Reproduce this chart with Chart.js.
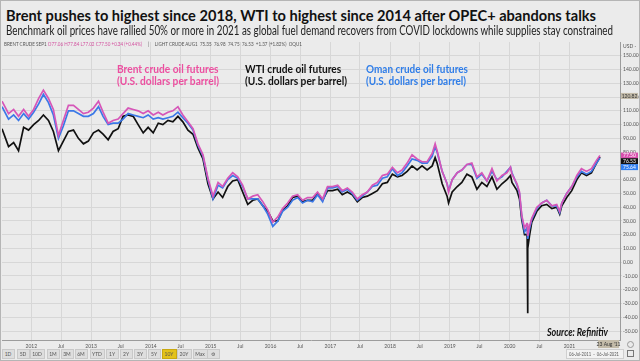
<!DOCTYPE html>
<html>
<head>
<meta charset="utf-8">
<script src="https://cdn.jsdelivr.net/npm/chart.js@4.4.1/dist/chart.umd.min.js"></script>
<style>
html, body { margin: 0; padding: 0; }
body { width: 640px; height: 361px; background: #ebebeb; position: relative; overflow: hidden; font-family: Lato, sans-serif; }
#frame { position: absolute; left: 0; top: 0; width: 638px; height: 359px; border: 1px solid #b5b5b5; pointer-events: none; }
.t { position: absolute; white-space: nowrap; transform-origin: 0 50%; display: inline-block; }
#title { left: 6px; top: 5px; font-size: 16px; font-weight: bold; color: #111; line-height: 20px; }
#sub { left: 6px; top: 23px; font-size: 12.5px; color: #222; line-height: 16px; }
#info { left: 4px; top: 41px; font-size: 5px; color: #555; line-height: 6px; }
#info .p { color: #d3519f; }
#chartBox { position: absolute; left: 0; top: 38px; width: 640px; height: 312px; }
.ann { font-size: 11.5px; font-weight: bold; line-height: 12px; }
#brentTxt { left: 117px; top: 63px; color: #ec4fa0; }
#wtiTxt { left: 245px; top: 63px; color: #111; }
#omanTxt { left: 366px; top: 63px; color: #2f7de8; }
#source { left: 547px; top: 325px; font-size: 12px; font-weight: bold; font-style: italic; color: #111; line-height: 14px; }
.btn { position: absolute; top: 349px; height: 8px; background: #dedede; border: 1px solid #c9c9c9; font-size: 5px; line-height: 8px; text-align: center; color: #555; box-sizing: content-box; }
.btn.on { background: #e3c21b; border-color: #c9a810; }
#rangeBox { position: absolute; left: 566px; top: 349px; width: 56px; height: 8px; background: #f2f2f2; border: 1px solid #cfcfcf; }
#range { left: 569px; top: 350px; font-size: 5px; line-height: 8px; color: #555; }
#cal { position: absolute; left: 627px; top: 350px; width: 5px; height: 5px; border: 1px solid #777; }
#circ { position: absolute; left: 627px; top: 341px; width: 5px; height: 5px; border: 1px solid #999; border-radius: 50%; }
</style>
</head>
<body>
<div id="chartBox"><canvas id="oilChart" width="640" height="312"></canvas></div>
<span class="t" id="title">Brent pushes to highest since 2018, WTI to highest since 2014 after OPEC+ abandons talks</span>
<span class="t" id="sub">Benchmark oil prices have rallied 50% or more in 2021 as global fuel demand recovers from COVID lockdowns while supplies stay constrained</span>
<span class="t" id="info">BRENT CRUDE SEP1 <span class="p">O77.06 H77.84 L77.02 C77.50 +0.34 (+0.44%)</span> &nbsp;&nbsp;&nbsp;&nbsp;|&nbsp;&nbsp;&nbsp;&nbsp; LIGHT CRUDE AUG1 &nbsp;75.35 &nbsp;76.98 &nbsp;74.75 &nbsp;76.53 &nbsp;+1.37 (+1.82%) &nbsp;OQU1</span>
<div class="t ann" id="brentTxt">Brent crude oil futures<br>(U.S. dollars per barrel)</div>
<div class="t ann" id="wtiTxt">WTI crude oil futures<br>(U.S. dollars per barrel)</div>
<div class="t ann" id="omanTxt">Oman crude oil futures<br>(U.S. dollars per barrel)</div>
<span class="t" id="source">Source: Refinitiv</span>
<div id="buttons"></div>
<div id="rangeBox"></div>
<span class="t" id="range">06-Jul-2011 &nbsp;-&nbsp; 06-Jul-2021</span>
<div id="cal"></div>
<div id="circ"></div>
<div id="frame"></div>
<script>
// dates of the sampled points (roughly monthly, denser around the 2020 crash)
const dates = [
  '2011-07-06','2011-08-15','2011-09-15','2011-10-15','2011-11-15','2011-12-15',
  '2012-01-15','2012-02-15','2012-03-15','2012-04-15','2012-05-15','2012-06-15','2012-07-15','2012-08-15','2012-09-15','2012-10-15','2012-11-15','2012-12-15',
  '2013-01-15','2013-02-15','2013-03-15','2013-04-15','2013-05-15','2013-06-15','2013-07-15','2013-08-15','2013-09-15','2013-10-15','2013-11-15','2013-12-15',
  '2014-01-15','2014-02-15','2014-03-15','2014-04-15','2014-05-15','2014-06-15','2014-07-15','2014-08-15','2014-09-15','2014-10-15','2014-11-15','2014-12-15',
  '2015-01-15','2015-02-15','2015-03-15','2015-04-15','2015-05-15','2015-06-15','2015-07-15','2015-08-15','2015-09-15','2015-10-15','2015-11-15','2015-12-15',
  '2016-01-15','2016-02-15','2016-03-15','2016-04-15','2016-05-15','2016-06-15','2016-07-15','2016-08-15','2016-09-15','2016-10-15','2016-11-15','2016-12-15',
  '2017-01-15','2017-02-15','2017-03-15','2017-04-15','2017-05-15','2017-06-15','2017-07-15','2017-08-15','2017-09-15','2017-10-15','2017-11-15','2017-12-15',
  '2018-01-15','2018-02-15','2018-03-15','2018-04-15','2018-05-15','2018-06-15','2018-07-15','2018-08-15','2018-09-15','2018-10-03','2018-10-15','2018-11-15','2018-12-15','2018-12-24',
  '2019-01-15','2019-02-15','2019-03-15','2019-04-15','2019-05-15','2019-06-15','2019-07-15','2019-08-15','2019-09-15','2019-10-15','2019-11-15','2019-12-15',
  '2020-01-06','2020-01-15','2020-02-15','2020-03-01','2020-03-15','2020-04-01','2020-04-15','2020-04-17','2020-04-20','2020-04-21','2020-05-01','2020-05-15','2020-06-15','2020-07-15','2020-08-15','2020-09-15','2020-10-15','2020-11-02','2020-11-15','2020-12-15',
  '2021-01-15','2021-02-15','2021-03-15','2021-04-15','2021-05-15','2021-06-15','2021-07-06'
];

const brent = [
  117, 108, 111, 106, 111, 106,
  111, 119, 125, 119, 111, 92, 103, 114, 114, 111, 108, 109,
  112, 117, 109, 101, 103, 104, 108, 112, 111, 110, 108, 110,
  107, 109, 107, 109, 110, 113, 107, 102, 97, 86, 78, 61,
  48, 58, 55, 61, 65, 62, 56, 46, 48, 49, 44, 38,
  29, 33, 39, 43, 48, 49, 45, 47, 47, 51, 46, 55,
  55, 56, 52, 54, 51, 46, 49, 51, 56, 58, 63, 64,
  69, 65, 67, 72, 78, 75, 73, 73, 79, 86, 81, 66, 57, 51,
  60, 65, 67, 71, 72, 62, 65, 59, 68, 59, 63, 65,
  69, 64, 57, 51, 34, 25, 28, 28, 26, 19, 26, 32, 40, 43, 45, 41, 42, 37, 43, 50,
  55, 63, 68, 66, 68, 74, 77.50
];

const wti = [
  97, 84, 87, 81, 98, 96,
  100, 103, 107, 103, 95, 81, 88, 95, 96, 90, 86, 88,
  94, 96, 93, 89, 95, 97, 106, 107, 106, 100, 94, 98,
  94, 101, 100, 103, 102, 106, 102, 96, 93, 83, 75, 57,
  46, 51, 47, 55, 59, 60, 51, 42, 45, 46, 41, 37,
  30, 30, 38, 41, 47, 48, 44, 45, 45, 50, 45, 52,
  52, 53, 49, 51, 49, 44, 47, 48, 50, 52, 57, 58,
  64, 62, 63, 66, 70, 67, 70, 67, 70, 76, 72, 57, 48, 43,
  51, 55, 58, 64, 62, 53, 58, 55, 62, 53, 57, 60,
  63, 58, 52, 46, 31, 20, 20, 18, -37, 10, 19, 29, 37, 41, 42, 39, 40, 35, 41, 47,
  52, 60, 65, 63, 65, 72, 76.53
];

const oman = [
  113, 104, 107, 103, 108, 104,
  109, 115, 122, 116, 107, 90, 99, 110, 110, 108, 106, 106,
  108, 113, 106, 100, 101, 101, 104, 108, 107, 106, 105, 107,
  104, 105, 104, 105, 106, 109, 105, 101, 96, 85, 77, 60,
  46, 56, 54, 60, 63, 61, 55, 46, 46, 46, 41, 35,
  26, 30, 37, 40, 45, 47, 43, 45, 44, 49, 44, 54,
  54, 55, 51, 53, 50, 45, 48, 51, 55, 56, 61, 62,
  68, 63, 65, 70, 75, 74, 72, 72, 77, 84, 80, 66, 57, 52,
  60, 65, 67, 71, 71, 61, 64, 59, 66, 60, 62, 66,
  69, 65, 56, 50, 33, 22, 25, 24, 23, 17, 24, 31, 39, 43, 45, 41, 41, 36, 43, 50,
  55, 62, 66, 64, 66, 72, 75.64
];

const tickDates = ['2012-01-01','2012-07-01','2013-01-01','2013-07-01','2014-01-01','2014-07-01','2015-01-01','2015-07-01',
  '2016-01-01','2016-07-01','2017-01-01','2017-07-01','2018-01-01','2018-07-01','2019-01-01','2019-07-01','2020-01-01','2020-07-01','2021-01-01'];
const tickLabels = ['2012','Jul','2013','Jul','2014','Jul','2015','Jul','2016','Jul','2017','Jul','2018','Jul','2019','Jul','2020','Jul','2021'];
const yTicks = [-50, -40, -30, -20, -10, 0, 10, 20, 30, 40, 50, 60, 70, 80, 90, 100, 110, 120, 130, 140, 150];
const crossValue = 120.82;
const crossDate = "23 Aug '11";

function toYear(s) {
  const d = Date.parse(s + 'T00:00:00Z');
  const y = new Date(d).getUTCFullYear();
  const a = Date.UTC(y, 0, 1), b = Date.UTC(y + 1, 0, 1);
  return y + (d - a) / (b - a);
}
const pts = arr => dates.map((d, i) => ({ x: toYear(d), y: arr[i] }));

Chart.defaults.font.family = 'Lato, sans-serif';

// price tags on the right axis, crosshair labels, USD unit
const tagPlugin = {
  id: 'tags',
  afterDraw(chart) {
    const ctx = chart.ctx, ys = chart.scales.y, area = chart.chartArea;
    const box = (x, y, w, h, bg, fg, txt) => {
      ctx.fillStyle = bg;
      ctx.fillRect(x, y - h / 2, w, h);
      ctx.fillStyle = fg;
      ctx.font = '5px Lato, sans-serif';
      ctx.textAlign = 'center';
      ctx.textBaseline = 'middle';
      ctx.fillText(txt, x + w / 2, y + 0.3);
    };
    const tags = [
      { v: brent[brent.length - 1], bg: '#d94fae', dy: 0 },
      { v: wti[wti.length - 1], bg: '#111111', dy: 4.3 },
      { v: oman[oman.length - 1], bg: '#2f7ff0', dy: 9 }
    ];
    tags.forEach(t => box(area.right + 1, ys.getPixelForValue(t.v) + t.dy, 17, 6, t.bg, '#fff', t.v.toFixed(2)));
    box(area.right + 1, ys.getPixelForValue(crossValue), 17, 6, '#c3bba9', '#333', crossValue.toFixed(2));
    box(area.right - 22, area.bottom + 4, 21, 8, '#c3bba9', '#333', crossDate);
    ctx.fillStyle = '#555';
    ctx.font = '5px Lato, sans-serif';
    ctx.textAlign = 'left';
    ctx.fillText('USD -', area.right + 3, ys.getPixelForValue(156.5));
  }
};

new Chart(document.getElementById('oilChart'), {
  type: 'line',
  data: {
    datasets: [
      { label: 'Brent', data: pts(brent), borderColor: '#d656b8', borderWidth: 1.7 },
      { label: 'Oman', data: pts(oman), borderColor: '#3b78e7', borderWidth: 1.7 },
      { label: 'WTI', data: pts(wti), borderColor: '#111111', borderWidth: 1.7 }
    ]
  },
  options: {
    responsive: false,
    animation: false,
    layout: { padding: { left: 2, right: 0, top: 0, bottom: 0 } },
    elements: { point: { radius: 0 }, line: { tension: 0 } },
    plugins: { legend: { display: false }, tooltip: { enabled: false } },
    scales: {
      x: {
        type: 'linear',
        min: toYear('2011-07-06'),
        max: 2021.845,
        afterBuildTicks: ax => { ax.ticks = tickDates.map(d => ({ value: toYear(d) })); },
        afterFit: ax => { ax.height = 10; },
        ticks: { callback: (v, i) => tickLabels[i], font: { size: 5 }, color: '#555', maxRotation: 0, autoSkip: false, padding: 1 },
        grid: { color: '#d7d7d7', tickLength: 2 },
        border: { color: '#9c9c9c' }
      },
      y: {
        position: 'right',
        min: -56.5,
        max: 160,
        afterBuildTicks: ax => { ax.ticks = yTicks.map(v => ({ value: v })); },
        afterFit: ax => { ax.width = 20; },
        ticks: { callback: v => v.toFixed(2), font: { size: 5 }, color: '#555', padding: 1 },
        grid: { color: '#d7d7d7', tickLength: 2 },
        border: { color: '#9c9c9c' }
      }
    }
  },
  plugins: [tagPlugin]
});

// range buttons at the bottom
const btnLabels = ['1D','5D','10D','1M','3M','6M','YTD','1Y','2Y','3Y','5Y','10Y','20Y','Max','\u2699'];
const btnCenters = [8, 23, 37, 53, 67, 81, 97, 112, 126, 140, 154, 169, 184, 200, 213];
const bar = document.getElementById('buttons');
btnLabels.forEach((b, i) => {
  const el = document.createElement('div');
  el.className = 'btn' + (b === '10Y' ? ' on' : '');
  const w = b === 'YTD' || b === 'Max' || b === '10Y' || b === '10D' || b === '20Y' ? 13 : 11;
  el.style.width = w + 'px';
  el.style.left = (btnCenters[i] - w / 2 - 1) + 'px';
  el.textContent = b;
  bar.appendChild(el);
});

// stretch text to the widths measured on the reference
function fit(id, w) {
  const el = document.getElementById(id);
  const r = el.getBoundingClientRect().width;
  el.style.transform = 'scaleX(' + (w / r) + ')';
}
fit('title', 590);
fit('sub', 607);
fit('info', 298);
fit('brentTxt', 102);
fit('wtiTxt', 102);
fit('omanTxt', 102);
fit('source', 61);
fit('range', 50);
</script>
</body>
</html>
